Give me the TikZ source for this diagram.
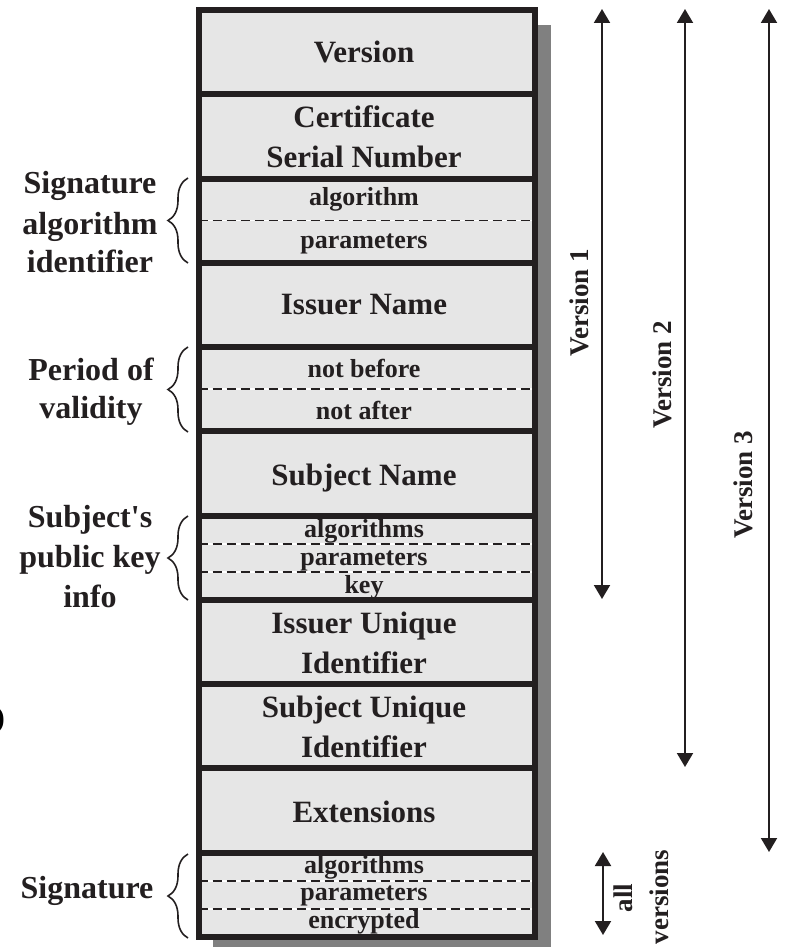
\documentclass[tikz,border=0pt]{standalone}
\usepackage{fontspec}
\setmainfont{Liberation Serif}
\newfontfamily\plainserif{Liberation Serif}
\usetikzlibrary{arrows.meta,decorations.pathreplacing}
\definecolor{ink}{HTML}{231F20}
\definecolor{cellfill}{HTML}{E6E6E6}
\definecolor{shadowgray}{HTML}{808080}
\begin{document}
\begin{tikzpicture}[x=1pt,y=-1pt,
  fieldtext/.style={font=\fontsize{31}{36}\selectfont\bfseries, text=ink, anchor=base, inner sep=0pt},
  subtext/.style={font=\fontsize{26}{30}\selectfont\bfseries, text=ink, anchor=base, inner sep=0pt},
  sidetext/.style={font=\fontsize{32}{38}\selectfont\bfseries, text=ink, anchor=base, inner sep=0pt},
  vertext/.style={font=\fontsize{27}{30}\selectfont\bfseries, text=ink, anchor=base, inner sep=0pt, rotate=90},
  border/.style={draw=ink, line width=6pt},
  dividerbg/.style={draw=white, line width=1.6pt},
  divider/.style={draw=ink, line width=1.6pt, dash pattern=on 9pt off 5pt},
  bracepath/.style={draw=ink, line width=1.6pt, decorate, decoration={brace, amplitude=20pt, aspect=0.5}},
  span/.style={draw=ink, line width=2pt, {Triangle[width=16pt,length=14pt]}-{Triangle[width=16pt,length=14pt]}}
]
\useasboundingbox (0,0) rectangle (787,947);

% shadow and cell fill
\fill[shadowgray] (213,25) rectangle (551,947);
\fill[cellfill] (198.5,10) rectangle (534.5,937);

% dashed subdividers
\foreach \y in {220.5,389,543.7,571.8,880.8,908.9}{
  \draw[dividerbg] (198.5,\y) -- (534.5,\y);
  \draw[divider] (198.5,\y) -- (534.5,\y);
}

% field texts
\node[fieldtext] (version) at (364,63) {Version};
\node[fieldtext] (cert1) at (364,128) {Certificate};
\node[fieldtext] (cert2) at (364,167) {Serial Number};
\node[subtext] (sigalg1) at (364,205) {algorithm};
\node[subtext] (sigalg2) at (364,248) {parameters};
\node[fieldtext] (issuer) at (364,314) {Issuer Name};
\node[subtext] (valid1) at (364,377) {not before};
\node[subtext] (valid2) at (364,419) {not after};
\node[fieldtext] (subject) at (364,485) {Subject Name};
\node[subtext] (pk1) at (364,537) {algorithms};
\node[subtext] (pk2) at (364,565) {parameters};
\node[subtext] (pk3) at (364,593) {key};
\node[fieldtext] (iuid1) at (364,633) {Issuer Unique};
\node[fieldtext] (iuid2) at (364,673) {Identifier};
\node[fieldtext] (suid1) at (364,717) {Subject Unique};
\node[fieldtext] (suid2) at (364,757) {Identifier};
\node[fieldtext] (ext) at (364,822) {Extensions};
\node[subtext] (sig1) at (364,873) {algorithms};
\node[subtext] (sig2) at (364,900) {parameters};
\node[subtext] (sig3) at (364,928) {encrypted};

% borders
\draw[border] (198.5,10) rectangle (534.5,937);
\foreach \y in {94.3,178.5,262.8,347.1,431.4,515.6,599.9,684.2,768.4,852.7}{
  \draw[border] (198.5,\y) -- (534.5,\y);
}

% left labels
\node[sidetext] (lsa1) at (90,193) {Signature};
\node[sidetext] (lsa2) at (90,234) {algorithm};
\node[sidetext] (lsa3) at (90,272) {identifier};
\node[sidetext] (lpv1) at (91,380) {Period of};
\node[sidetext] (lpv2) at (91,418) {validity};
\node[sidetext] (lpk1) at (90,527) {\plainserif\bfseries Subject's};
\node[sidetext] (lpk2) at (90,567) {public key};
\node[sidetext] (lpk3) at (90,607) {info};
\node[sidetext] (lsig) at (87,898) {Signature};

% braces
\coordinate (b1s) at (188,263); \coordinate (b1e) at (188,178);
\coordinate (b2s) at (188,432); \coordinate (b2e) at (188,347);
\coordinate (b3s) at (188,600); \coordinate (b3e) at (188,516);
\coordinate (b4s) at (188,938); \coordinate (b4e) at (188,854);
\draw[bracepath] (b1s) -- (b1e);
\draw[bracepath] (b2s) -- (b2e);
\draw[bracepath] (b3s) -- (b3e);
\draw[bracepath] (b4s) -- (b4e);

% version spans
\coordinate (v1t) at (602,9);  \coordinate (v1b) at (602,599);
\coordinate (v2t) at (685,9);  \coordinate (v2b) at (685,767);
\coordinate (v3t) at (769,9);  \coordinate (v3b) at (769,852);
\coordinate (vat) at (603,852); \coordinate (vab) at (603,935);
\draw[span] (v1t) -- (v1b);
\draw[span] (v2t) -- (v2b);
\draw[span] (v3t) -- (v3b);
\draw[span] (vat) -- (vab);

\node[vertext] (lv1) at (588,303) {Version 1};
\node[vertext] (lv2) at (671,375) {Version 2};
\node[vertext] (lv3) at (752,485) {Version 3};
\node[vertext] (lall) at (632,898) {all};
\node[vertext] (lvers) at (668,897) {versions};

% stray glyph at the left edge
\node[font=\fontsize{30}{32}\selectfont\bfseries, text=black, anchor=east, inner sep=0pt] (stray) at (5,720) {)};
\end{tikzpicture}
\end{document}
